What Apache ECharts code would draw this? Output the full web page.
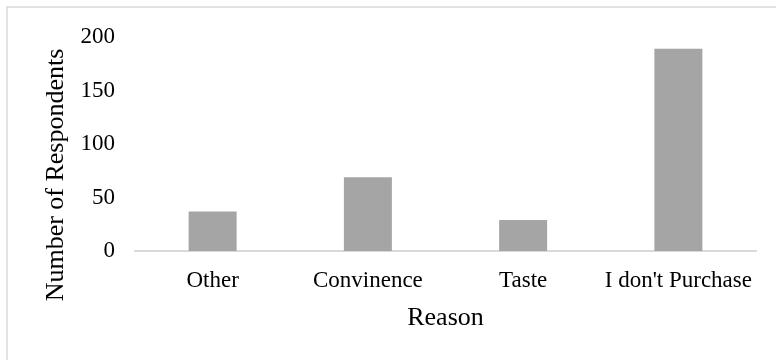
<!DOCTYPE html>
<html>
<head>
<meta charset="utf-8">
<script src="https://cdn.jsdelivr.net/npm/echarts@6/dist/echarts.min.js"></script>
<style>
  html, body { margin: 0; padding: 0; background: #ffffff; }
  #chart { width: 776px; height: 360px; }
</style>
</head>
<body>
<div id="chart"></div>
<script>
// Reasons given and respondent counts
const categories = ['Other', 'Convinence', 'Taste', "I don't Purchase"];
const respondents = [37, 69, 29, 189];
const yTicks = { min: 0, max: 200, interval: 50 };

const serif = '"Liberation Serif", "Times New Roman", serif';

const chart = echarts.init(document.getElementById('chart'), null, { renderer: 'canvas' });

chart.setOption({
  backgroundColor: '#ffffff',
  animation: false,
  graphic: [{
    type: 'rect',
    shape: { x: 7, y: 7, width: 800, height: 400 },
    style: { fill: 'none', stroke: '#d9d9d9', lineWidth: 1.5 },
    silent: true
  }],
  grid: { left: 135, right: 20, top: 37, bottom: 109 },
  xAxis: {
    type: 'category',
    data: categories,
    name: 'Reason',
    nameLocation: 'middle',
    nameGap: 54,
    nameTextStyle: { fontFamily: serif, fontSize: 26, color: '#000000' },
    axisLine: { show: true, lineStyle: { color: '#d9d9d9', width: 2 } },
    axisTick: { show: false },
    axisLabel: { interval: 0, fontFamily: serif, fontSize: 23, color: '#000000', margin: 18 }
  },
  yAxis: {
    type: 'value',
    min: yTicks.min,
    max: yTicks.max,
    interval: yTicks.interval,
    name: 'Number of Respondents',
    nameLocation: 'middle',
    nameGap: 64,
    nameTextStyle: { fontFamily: serif, fontSize: 26, color: '#000000', padding: [0, 62, 0, 0] },
    axisLine: { show: false },
    axisTick: { show: false },
    splitLine: { show: false },
    axisLabel: { fontFamily: serif, fontSize: 23, color: '#000000', margin: 20 }
  },
  series: [{
    type: 'bar',
    data: respondents,
    barWidth: 48,
    itemStyle: { color: '#a5a5a5' }
  }]
});
</script>
</body>
</html>
